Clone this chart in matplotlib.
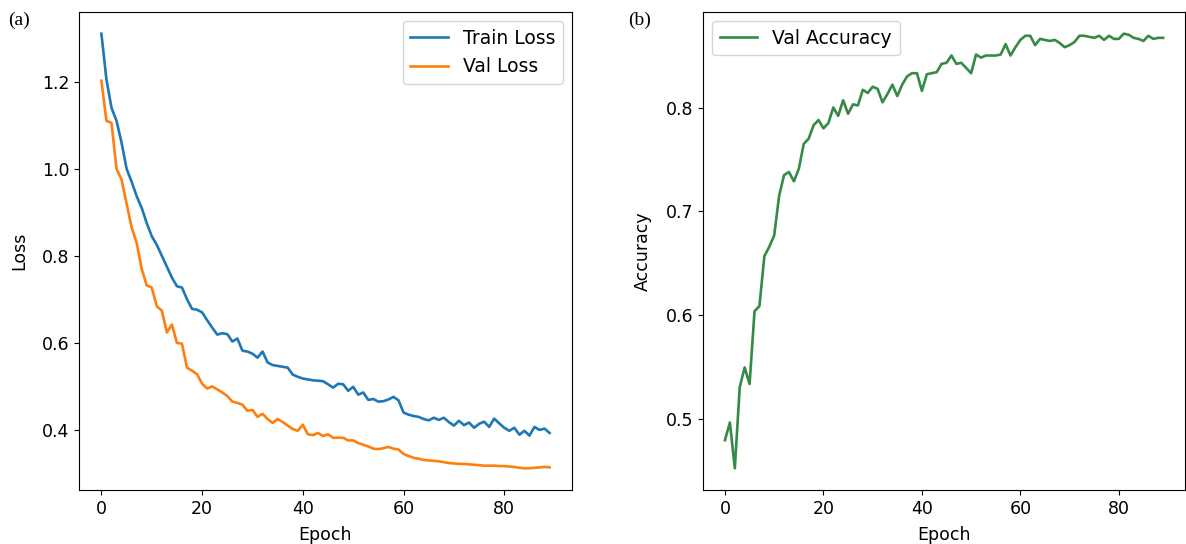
import matplotlib

matplotlib.use("Agg")
import matplotlib.pyplot as plt

train_loss = [
    1.31, 1.205, 1.14, 1.11, 1.06, 1.0, 0.97, 0.937, 0.91, 0.875,
    0.845, 0.825, 0.80, 0.775, 0.75, 0.73, 0.727, 0.70, 0.678, 0.676,
    0.67, 0.652, 0.635, 0.619, 0.622, 0.62, 0.603, 0.61, 0.582, 0.58,
    0.575, 0.566, 0.58, 0.555, 0.549, 0.547, 0.545, 0.543, 0.527, 0.522,
    0.518, 0.516, 0.514, 0.513, 0.512, 0.505, 0.497, 0.506, 0.505, 0.49,
    0.499, 0.481, 0.486, 0.469, 0.471, 0.465, 0.466, 0.47, 0.476, 0.468,
    0.44, 0.435, 0.432, 0.43, 0.425, 0.422, 0.428, 0.423, 0.428, 0.418,
    0.41, 0.421, 0.411, 0.417, 0.405, 0.414, 0.419, 0.407, 0.426, 0.415,
    0.405, 0.398, 0.405, 0.389, 0.398, 0.387, 0.407, 0.40, 0.403, 0.393,
]
val_loss = [
    1.202, 1.11, 1.105, 1.0, 0.975, 0.92, 0.865, 0.83, 0.77, 0.732,
    0.727, 0.684, 0.674, 0.624, 0.642, 0.60, 0.598, 0.543, 0.536, 0.528,
    0.506, 0.495, 0.50, 0.493, 0.486, 0.478, 0.465, 0.462, 0.458, 0.444,
    0.446, 0.43, 0.437, 0.425, 0.416, 0.425, 0.418, 0.41, 0.402, 0.398,
    0.412, 0.39, 0.388, 0.393, 0.386, 0.39, 0.382, 0.382, 0.382, 0.376,
    0.376, 0.37, 0.366, 0.362, 0.357, 0.356, 0.358, 0.361, 0.357, 0.355,
    0.345, 0.34, 0.336, 0.334, 0.331, 0.33, 0.329, 0.328, 0.326, 0.324,
    0.323, 0.322, 0.322, 0.321, 0.32, 0.319, 0.318, 0.318, 0.318, 0.317,
    0.317, 0.316, 0.315, 0.313, 0.312, 0.312, 0.313, 0.314, 0.315, 0.314,
]
val_acc = [
    0.48, 0.497, 0.453, 0.531, 0.55, 0.534, 0.604, 0.609, 0.657, 0.666,
    0.677, 0.715, 0.735, 0.738, 0.729, 0.741, 0.765, 0.77, 0.783, 0.788,
    0.78, 0.785, 0.80, 0.792, 0.807, 0.794, 0.803, 0.802, 0.817, 0.814,
    0.82, 0.818, 0.805, 0.813, 0.822, 0.811, 0.822, 0.83, 0.833, 0.833,
    0.816, 0.832, 0.833, 0.834, 0.842, 0.843, 0.85, 0.842, 0.843, 0.838,
    0.833, 0.851, 0.848, 0.85, 0.85, 0.85, 0.851, 0.861, 0.85, 0.858,
    0.865, 0.869, 0.869, 0.86, 0.866, 0.865, 0.864, 0.865, 0.862, 0.858,
    0.86, 0.863, 0.869, 0.869, 0.868, 0.867, 0.869, 0.865, 0.869, 0.866,
    0.866, 0.871, 0.87, 0.867, 0.866, 0.864, 0.869, 0.866, 0.867, 0.867,
]
epochs = list(range(len(train_loss)))


def main() -> None:
    plt.rcParams["font.size"] = 12.5
    plt.rcParams["legend.fontsize"] = 13.5
    figure = plt.figure(figsize=(11.86, 5.44), dpi=100)

    ax_loss = figure.add_axes((0.0666, 0.0993, 0.4157, 0.8787))
    ax_loss.plot(epochs, train_loss, color="#1f77b4", linewidth=1.9, label="Train Loss")
    ax_loss.plot(epochs, val_loss, color="#ff7f0e", linewidth=1.9, label="Val Loss")
    ax_loss.set_xlabel("Epoch", labelpad=6)
    ax_loss.set_ylabel("Loss", labelpad=10)
    ax_loss.set_xticks([0, 20, 40, 60, 80])
    ax_loss.set_yticks([0.4, 0.6, 0.8, 1.0, 1.2])
    ax_loss.legend(loc="upper right")

    ax_acc = figure.add_axes((0.5928, 0.0993, 0.4064, 0.8787))
    ax_acc.plot(epochs, val_acc, color="#358a45", linewidth=1.9, label="Val Accuracy")
    ax_acc.set_xlabel("Epoch", labelpad=6)
    ax_acc.set_ylabel("Accuracy", labelpad=10)
    ax_acc.set_xticks([0, 20, 40, 60, 80])
    ax_acc.set_yticks([0.5, 0.6, 0.7, 0.8])
    ax_acc.legend(loc="upper left")

    figure.text(0.007, 0.963, "(a)", family="Liberation Serif", fontsize=14, va="center")
    figure.text(0.53, 0.963, "(b)", family="Liberation Serif", fontsize=14, va="center")

    figure.savefig("out.png", dpi=100)
    plt.close(figure)


if __name__ == "__main__":
    main()
